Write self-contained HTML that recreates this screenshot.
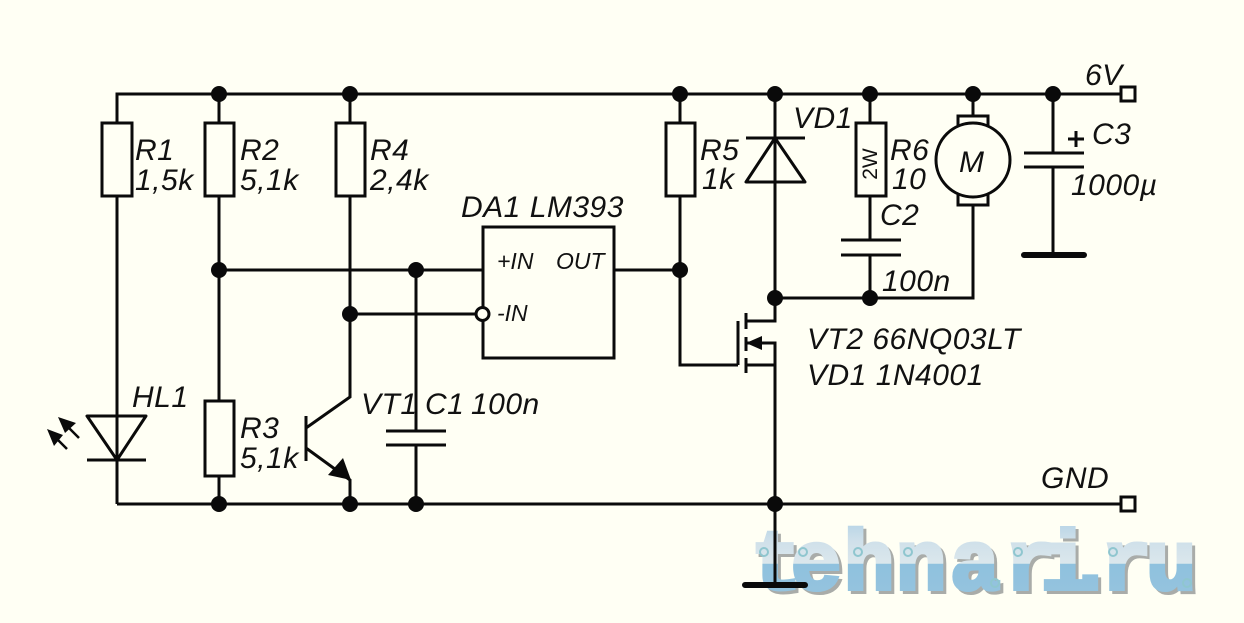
<!DOCTYPE html>
<html><head><meta charset="utf-8"><style>
html,body{margin:0;padding:0;background:#fffff4}
svg{display:block}
.l{font:italic 30px "Liberation Sans",sans-serif;letter-spacing:.5px;fill:#111}
.s{font:italic 23px "Liberation Sans",sans-serif;fill:#111}
</style></head><body>
<svg width="1244" height="623" viewBox="0 0 1244 623" xmlns="http://www.w3.org/2000/svg">
<defs><linearGradient id="g" gradientUnits="userSpaceOnUse" x1="0" y1="520" x2="0" y2="590">
<stop offset="0" stop-color="#b4d3e6"/><stop offset=".3" stop-color="#cfe0ea"/><stop offset=".62" stop-color="#dbe7ec"/><stop offset=".63" stop-color="#8fc1de"/><stop offset="1" stop-color="#94c3de"/></linearGradient></defs>
<rect width="1244" height="623" fill="#fffff4"/>
<g font-family="Liberation Mono" font-weight="bold" font-size="84">
<text x="754 794 847 899 953 1008 1044 1068 1104 1149" y="592" fill="#a9aca9" stroke="#a9aca9" stroke-width="4">tehnari.ru</text>
<text x="751 791 844 896 950 1005 1041 1065 1101 1146" y="589" fill="url(#g)" stroke="url(#g)" stroke-width="4">tehnari.ru</text>
</g>
<g fill="none" stroke="#8fc6cf" stroke-width="2">
<circle cx="764" cy="552" r="4"/><circle cx="803" cy="552" r="4"/><circle cx="858" cy="552" r="4"/><circle cx="908" cy="552" r="4"/><circle cx="1018" cy="552" r="4"/><circle cx="1113" cy="552" r="4"/><circle cx="995" cy="583" r="4"/><circle cx="1187" cy="583" r="4"/>
</g>
<g fill="none" stroke="#0a0a0a" stroke-width="3">
<path d="M117 504V94H1120M117 504H1120"/>
<path d="M219 94V270M219 270V504M350 94V397L306 428M306 448L350 480V504"/>
<path d="M416 270V431M416 445V504M219 270H483M350 314H476M614 270H680"/>
<path d="M680 94V365H738M775 94V321H746M746 343H775V585M746 365H775"/>
<path d="M870 94V240M870 255V298M775 298H973V205M973 94V116M1053 94V153M1053 167V255"/>
<path d="M306 416V461M386 431H446M386 445H446M841 240H901M841 255H901M1024 153H1084M1024 167H1084"/>
<path d="M738 321V365M746 313V329M746 337V351M746 358V373"/>
<path d="M746 138H805M87 460H146"/>
<path d="M1068 139H1084M1076 131V147" stroke-width="3"/>
</g>
<path d="M1024 255H1084M745 585H805" stroke="#0a0a0a" stroke-width="6" stroke-linecap="round"/>
<g fill="#fffff4" stroke="#0a0a0a" stroke-width="3">
<rect x="102" y="123" width="30" height="73"/><rect x="205" y="123" width="29" height="73"/><rect x="336" y="123" width="29" height="73"/>
<rect x="666" y="123" width="29" height="73"/><rect x="856" y="123" width="30" height="73"/><rect x="205" y="401" width="29" height="75"/>
<rect x="483" y="227" width="131" height="131"/>
<rect x="958" y="116" width="30" height="12"/><rect x="958" y="193" width="30" height="12"/>
<circle cx="973" cy="160" r="37"/>
<circle cx="482.500" cy="314" r="6.500"/>
<rect x="1121" y="87" width="14" height="14"/><rect x="1121" y="497" width="14" height="14"/>
</g>
<g fill="none" stroke="#0a0a0a" stroke-width="3" stroke-linejoin="round">
<path d="M775 138L746 182H805Z"/><path d="M87 416H146L117 460Z"/>
<path d="M775 94V182M117 400V470"/>
<path d="M79 438L66 425M67 449L54 436" stroke-width="2.500"/>
</g>
<g fill="#0a0a0a">
<path d="M351 480L328 475L343 458Z"/><path d="M746 343L762 336V350Z"/>
<path d="M58 417L76 423L65 433ZM47 429L63 435L54 446Z"/>
<circle cx="219" cy="94" r="8"/><circle cx="350" cy="94" r="8"/><circle cx="680" cy="94" r="8"/><circle cx="775" cy="94" r="8"/><circle cx="870" cy="94" r="8"/><circle cx="973" cy="94" r="8"/><circle cx="1053" cy="94" r="8"/>
<circle cx="219" cy="270" r="8"/><circle cx="416" cy="270" r="8"/><circle cx="680" cy="270" r="8"/><circle cx="350" cy="314" r="8"/>
<circle cx="775" cy="298" r="8"/><circle cx="870" cy="298" r="8"/>
<circle cx="219" cy="504" r="8"/><circle cx="350" cy="504" r="8"/><circle cx="416" cy="504" r="8"/><circle cx="775" cy="504" r="8"/>
</g>
<text class="l" x="135" y="160">R1</text><text class="l" x="135" y="190">1,5k</text>
<text class="l" x="240" y="160">R2</text><text class="l" x="240" y="190">5,1k</text>
<text class="l" x="370" y="160">R4</text><text class="l" x="370" y="190">2,4k</text>
<text class="l" x="700" y="160">R5</text><text class="l" x="702" y="189">1k</text>
<text class="l" x="890" y="160">R6</text><text class="l" x="892" y="189">10</text>
<text class="l" x="880" y="225">C2</text><text class="l" x="882" y="291">100n</text>
<text class="l" x="793" y="128">VD1</text>
<text class="l" x="461" y="217">DA1 LM393</text>
<text class="s" x="497" y="269">+IN</text><text class="s" x="556" y="269">OUT</text><text class="s" x="497" y="321">-IN</text>
<text class="l" x="807" y="349">VT2 66NQ03LT</text><text class="l" x="807" y="385">VD1 1N4001</text>
<text class="l" x="132" y="407">HL1</text>
<text class="l" x="240" y="438">R3</text><text class="l" x="240" y="468">5,1k</text>
<text class="l" x="361" y="414">VT1</text><text class="l" x="425" y="414">C1</text><text class="l" x="471" y="414">100n</text>
<text class="l" x="1041" y="488">GND</text><text class="l" x="1085" y="85">6V</text>
<text class="l" x="1092" y="144">C3</text><text class="l" x="1071" y="195">1000µ</text>
<text class="l" x="959" y="172">M</text>
<text x="877" y="164" text-anchor="middle" transform="rotate(-90 877 164)" style="font:21px 'Liberation Sans',sans-serif;fill:#111">2W</text>
</svg>
</body></html>
